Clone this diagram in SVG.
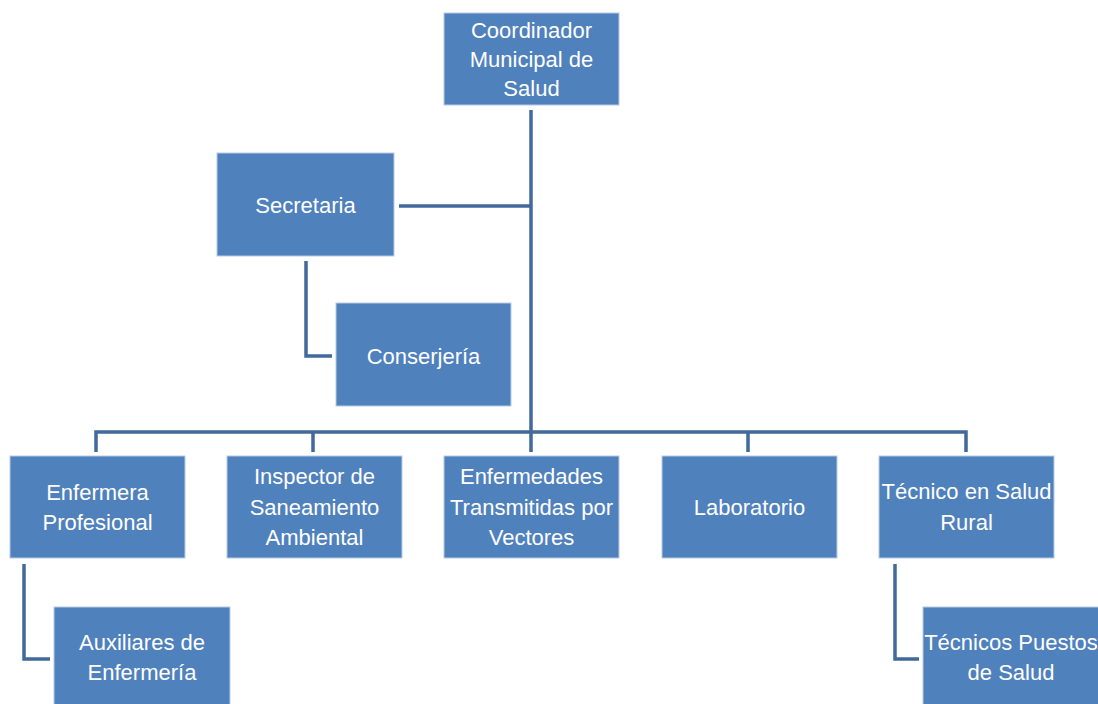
<svg xmlns="http://www.w3.org/2000/svg" width="1098" height="704" viewBox="0 0 1098 704">
<style>
.box{fill:#4F81BD;stroke:#B8CCE4;stroke-width:1}
.t{font-family:"Liberation Sans",Arial,sans-serif;font-size:22px;fill:#FFFFFF;text-anchor:middle}
.c{fill:none;stroke:#41699C;stroke-width:3.5;stroke-linejoin:miter}
</style>
<rect width="1098" height="704" fill="#FFFFFF"/>
<g id="connectors">
<path class="c" d="M531,110 V432"/>
<path class="c" d="M399,206 H531"/>
<path class="c" d="M306,261 V356 H332"/>
<path class="c" d="M96,452 V432 H966 V452"/>
<path class="c" d="M313,432 V452"/>
<path class="c" d="M531,432 V452"/>
<path class="c" d="M748,432 V452"/>
<path class="c" d="M24,564 V659 H50"/>
<path class="c" d="M895,564 V659 H919"/>
</g>
<g id="coordinador">
<rect class="box" x="444" y="13" width="175" height="92"/>
<text class="t" x="531.5" y="38">Coordinador</text>
<text class="t" x="531.5" y="67">Municipal de</text>
<text class="t" x="531.5" y="96">Salud</text>
</g>
<g id="secretaria">
<rect class="box" x="217" y="153" width="177" height="103"/>
<text class="t" x="305.5" y="213">Secretaria</text>
</g>
<g id="conserjeria">
<rect class="box" x="336" y="303" width="175" height="103"/>
<text class="t" x="423.5" y="364">Conserjería</text>
</g>
<g id="enfermera">
<rect class="box" x="10" y="456" width="175" height="102"/>
<text class="t" x="97.5" y="500">Enfermera</text>
<text class="t" x="97.5" y="530">Profesional</text>
</g>
<g id="inspector">
<rect class="box" x="227" y="456" width="175" height="102"/>
<text class="t" x="314.5" y="484">Inspector de</text>
<text class="t" x="314.5" y="515">Saneamiento</text>
<text class="t" x="314.5" y="545">Ambiental</text>
</g>
<g id="enfermedades">
<rect class="box" x="444" y="456" width="175" height="102"/>
<text class="t" x="531.5" y="484">Enfermedades</text>
<text class="t" x="531.5" y="515">Transmitidas por</text>
<text class="t" x="531.5" y="545">Vectores</text>
</g>
<g id="laboratorio">
<rect class="box" x="662" y="456" width="175" height="102"/>
<text class="t" x="749.5" y="515">Laboratorio</text>
</g>
<g id="tecnico">
<rect class="box" x="879" y="456" width="175" height="102"/>
<text class="t" x="966.5" y="499">Técnico en Salud</text>
<text class="t" x="966.5" y="530">Rural</text>
</g>
<g id="auxiliares">
<rect class="box" x="54" y="607" width="176" height="110"/>
<text class="t" x="142" y="650">Auxiliares de</text>
<text class="t" x="142" y="680">Enfermería</text>
</g>
<g id="tecnicos-puestos">
<rect class="box" x="923" y="607" width="176" height="110"/>
<text class="t" x="1011" y="650">Técnicos Puestos</text>
<text class="t" x="1011" y="680">de Salud</text>
</g>
</svg>
